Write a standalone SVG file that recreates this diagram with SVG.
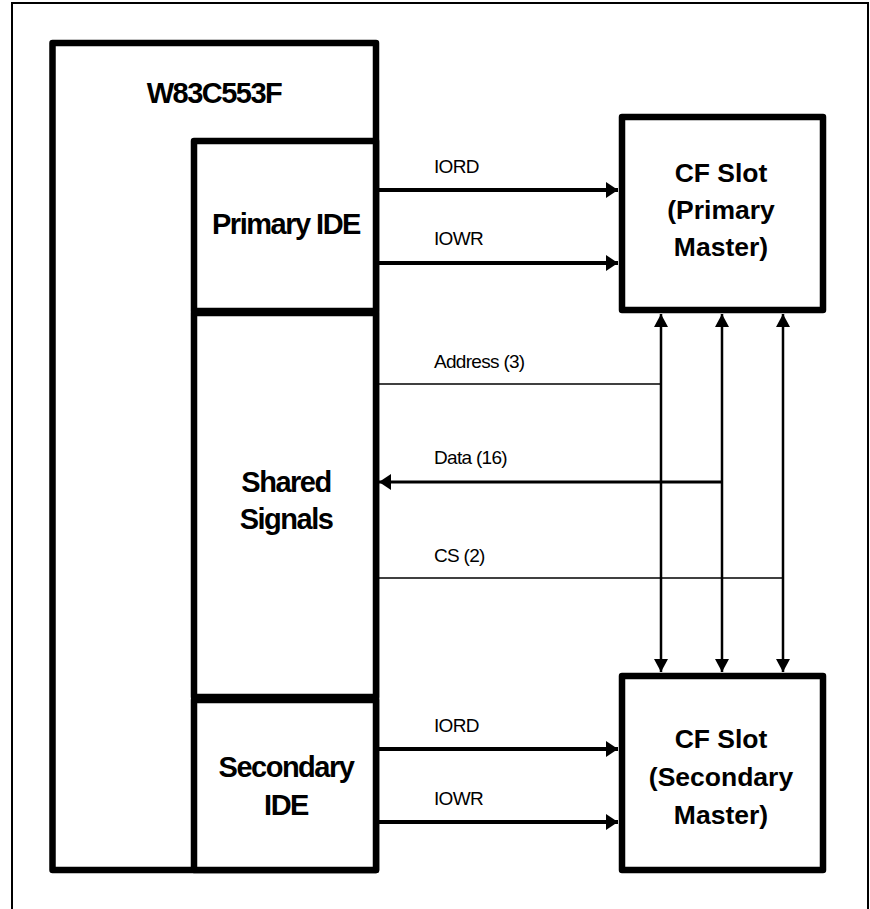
<svg xmlns="http://www.w3.org/2000/svg" width="870" height="909" viewBox="0 0 870 909">
<style>
.box{fill:#fff;stroke:#000;stroke-width:6.5;stroke-linejoin:round}
.big{font-family:"Liberation Sans",Arial,sans-serif;font-weight:bold;font-size:29px;letter-spacing:-1.5px;text-anchor:middle;fill:#000}
.cf{font-family:"Liberation Sans",Arial,sans-serif;font-weight:bold;font-size:26.5px;text-anchor:middle;fill:#000}
.lbl{font-family:"Liberation Sans",Arial,sans-serif;font-size:19px;letter-spacing:-0.7px;fill:#000}
.sig{stroke:#000;stroke-width:4;fill:none}
.thin{stroke:#000;stroke-width:1.6;fill:none}
.vert{stroke:#000;stroke-width:2.5;fill:none}
</style>
<defs>
<marker id="ah" markerUnits="userSpaceOnUse" viewBox="0 0 12 16" refX="12" refY="8" markerWidth="12" markerHeight="16" orient="auto-start-reverse">
<path d="M0,0 L12,8 L0,16 Z" fill="#000"/>
</marker>
<marker id="av" markerUnits="userSpaceOnUse" viewBox="0 0 13 14" refX="13" refY="7" markerWidth="13" markerHeight="14" orient="auto-start-reverse">
<path d="M0,0 L13,7 L0,14 Z" fill="#000"/>
</marker>
</defs>
<rect x="12" y="3" width="856" height="920" fill="none" stroke="#000" stroke-width="2"/>
<g id="w83c553f">
<rect class="box" x="52.5" y="43" width="323.5" height="827"/>
<text class="big" x="214" y="103">W83C553F</text>
</g>
<g id="primary-ide">
<rect class="box" x="194" y="141" width="182" height="170"/>
<text class="big" x="286" y="234">Primary IDE</text>
</g>
<g id="shared-signals">
<rect class="box" x="194" y="313" width="182" height="384"/>
<text class="big" x="286" y="492">Shared</text>
<text class="big" x="286" y="529">Signals</text>
</g>
<g id="secondary-ide">
<rect class="box" x="194" y="700" width="182" height="170"/>
<text class="big" x="286" y="777">Secondary</text>
<text class="big" x="286" y="815">IDE</text>
</g>
<g id="cf-primary">
<rect class="box" x="622" y="117" width="201" height="193"/>
<text class="cf" x="721" y="182">CF Slot</text>
<text class="cf" x="721" y="219">(Primary</text>
<text class="cf" x="721" y="256">Master)</text>
</g>
<g id="cf-secondary">
<rect class="box" x="622" y="676" width="201" height="194"/>
<text class="cf" x="721" y="748">CF Slot</text>
<text class="cf" x="721" y="786">(Secondary</text>
<text class="cf" x="721" y="824">Master)</text>
</g>
<g id="connectors">
<line class="sig" x1="379" y1="190" x2="618" y2="190" marker-end="url(#ah)"/>
<line class="sig" x1="379" y1="263" x2="618" y2="263" marker-end="url(#ah)"/>
<line class="sig" x1="379" y1="749" x2="618" y2="749" marker-end="url(#ah)"/>
<line class="sig" x1="379" y1="822" x2="618" y2="822" marker-end="url(#ah)"/>
<line class="thin" x1="379" y1="384" x2="661" y2="384"/>
<line class="sig" style="stroke-width:3" x1="722" y1="482" x2="379" y2="482" marker-end="url(#ah)"/>
<line class="thin" x1="379" y1="578" x2="783" y2="578"/>
<line class="vert" x1="661" y1="314" x2="661" y2="672" marker-start="url(#av)" marker-end="url(#av)"/>
<line class="vert" x1="722" y1="314" x2="722" y2="672" marker-start="url(#av)" marker-end="url(#av)"/>
<line class="vert" x1="783" y1="314" x2="783" y2="672" marker-start="url(#av)" marker-end="url(#av)"/>
<text class="lbl" x="434" y="173">IORD</text>
<text class="lbl" x="434" y="245">IOWR</text>
<text class="lbl" x="434" y="368">Address (3)</text>
<text class="lbl" x="434" y="464">Data (16)</text>
<text class="lbl" x="434" y="562">CS (2)</text>
<text class="lbl" x="434" y="732">IORD</text>
<text class="lbl" x="434" y="805">IOWR</text>
</g>
</svg>
